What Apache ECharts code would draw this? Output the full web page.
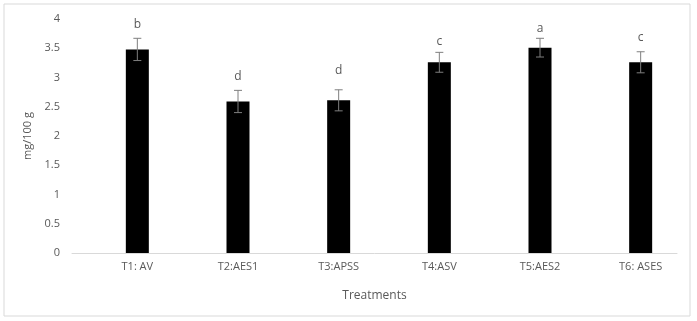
<!DOCTYPE html>
<html>
<head>
<meta charset="utf-8">
<script src="https://cdn.jsdelivr.net/npm/echarts@6/dist/echarts.min.js"></script>
<style>
  html, body { margin: 0; padding: 0; background: #fff; }
  #chart { width: 697px; height: 321px; }
</style>
</head>
<body>
<div id="chart"></div>
<script>
const categories = ['T1: AV', 'T2:AES1', 'T3:APSS', 'T4:ASV', 'T5:AES2', 'T6: ASES'];
const means = [3.48, 2.59, 2.61, 3.26, 3.51, 3.26];
const errors = [0.19, 0.19, 0.18, 0.17, 0.16, 0.18];
const letters = ['b', 'd', 'd', 'c', 'a', 'c'];
// where each letter sits on the y scale
const letterPos = [3.91, 3.01, 3.11, 3.61, 3.83, 3.69];
const yTicks = [0, 0.5, 1, 1.5, 2, 2.5, 3, 3.5, 4];

const font = '"Open Sans", sans-serif';
const grey = '#595959';

const chart = echarts.init(document.getElementById('chart'));

const option = {
  animation: false,
  graphic: [{
    type: 'rect',
    shape: { x: 4, y: 4, width: 686, height: 312 },
    style: { fill: 'none', stroke: '#d9d9d9', lineWidth: 1 },
    silent: true,
  }],
  // grid 0 holds the bars, grid 1 only draws the baseline and the y labels
  grid: [
    { left: 87, right: 6, top: 19, bottom: 68 },
    { left: 72, right: 20, top: 19, bottom: 68 },
  ],
  xAxis: [
    {
      type: 'category',
      gridIndex: 0,
      data: categories,
      axisLine: { show: false },
      axisTick: { show: false },
      axisLabel: { color: grey, fontFamily: font, fontSize: 11, margin: 8 },
    },
    {
      type: 'category',
      gridIndex: 1,
      data: categories,
      name: 'Treatments',
      nameLocation: 'middle',
      nameGap: 37,
      nameTextStyle: { color: grey, fontFamily: font, fontSize: 12 },
      axisLine: { show: true, lineStyle: { color: '#d9d9d9', width: 1 } },
      axisTick: { show: false },
      axisLabel: { show: false },
    },
  ],
  yAxis: [
    {
      type: 'value',
      gridIndex: 0,
      min: 0,
      max: 4,
      interval: 0.5,
      show: false,
      splitLine: { show: false },
    },
    {
      type: 'value',
      gridIndex: 1,
      min: 0,
      max: 4,
      interval: 0.5,
      name: 'mg/100 g',
      nameLocation: 'middle',
      nameGap: 34,
      nameTextStyle: { color: grey, fontFamily: font, fontSize: 11 },
      axisLine: { show: false },
      axisTick: { show: false },
      splitLine: { show: false },
      axisLabel: {
        color: grey, fontFamily: font, fontSize: 11, margin: 12,
        formatter: v => (yTicks.includes(v) ? String(v) : ''),
      },
    },
  ],
  series: [
    {
      type: 'bar',
      xAxisIndex: 0,
      yAxisIndex: 0,
      data: means,
      barWidth: 23,
      itemStyle: { color: '#000' },
    },
    {
      type: 'custom',
      xAxisIndex: 0,
      yAxisIndex: 0,
      data: means.map((m, i) => [i, m - errors[i], m + errors[i], letterPos[i]]),
      renderItem(params, api) {
        const i = api.value(0);
        const lo = api.coord([i, api.value(1)]);
        const hi = api.coord([i, api.value(2)]);
        const lp = api.coord([i, api.value(3)]);
        const cap = 4;
        const st = { stroke: '#7f7f7f', lineWidth: 1 };
        return {
          type: 'group',
          children: [
            { type: 'line', shape: { x1: hi[0], y1: hi[1], x2: lo[0], y2: lo[1] }, style: st },
            { type: 'line', shape: { x1: hi[0] - cap, y1: hi[1], x2: hi[0] + cap, y2: hi[1] }, style: st },
            { type: 'line', shape: { x1: lo[0] - cap, y1: lo[1], x2: lo[0] + cap, y2: lo[1] }, style: st },
            {
              type: 'text',
              x: lp[0], y: lp[1],
              style: {
                text: letters[i], fill: grey, font: '12px ' + font,
                align: 'center', verticalAlign: 'middle',
              },
            },
          ],
        };
      },
      z: 3,
    },
  ],
};

chart.setOption(option);
</script>
</body>
</html>
